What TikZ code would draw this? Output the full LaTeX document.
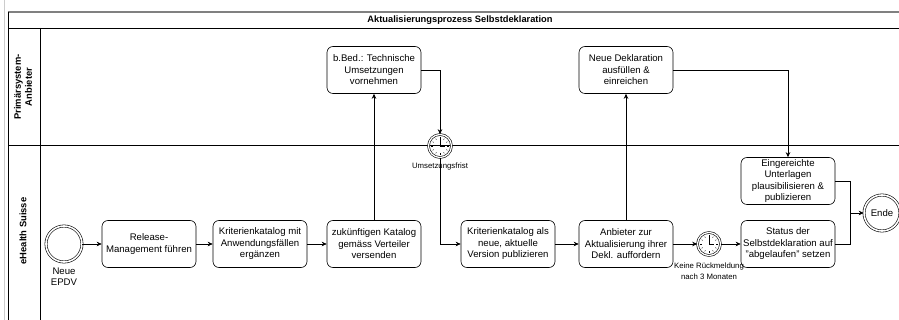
\documentclass[tikz,border=0pt]{standalone}
\usepackage{fontspec}
\setmainfont{Liberation Sans}
\usetikzlibrary{positioning,arrows.meta}

\tikzset{
  task/.style={draw, rounded corners=6pt, minimum width=94pt, minimum height=47pt,
    align=center, inner sep=1pt, font=\fontsize{9.6}{11.5}\selectfont},
  event/.style={draw, circle, double, double distance=1.6pt, minimum size=36pt, inner sep=0pt,
    font=\fontsize{9.6}{11.5}\selectfont},
  timer/.style={draw, circle, double, double distance=1.3pt, minimum size=23pt, inner sep=0pt},
  lanelabel/.style={rotate=90, align=center, font=\bfseries\fontsize{9.4}{11}\selectfont},
  note/.style={align=center, inner sep=0pt, font=\fontsize{7.8}{11}\selectfont},
}

\begin{document}
\begin{tikzpicture}[x=1pt, y=-1pt, line width=0.6pt, >={Stealth[length=5pt,width=4.5pt]}]
\useasboundingbox (0,0) rectangle (899,320);

% pool and lanes
\draw[gray!40] (4,0) -- (4,320);
\draw[gray, line width=1.2pt] (8,12) -- (899,12);
\draw (8,12) -- (8,320);
\draw (8,28) -- (899,28);
\draw (8,145) -- (899,145);
\draw (40,28) -- (40,320);
\node[font=\bfseries\fontsize{9.3}{11}\selectfont] (title) at (460,20) {Aktualisierungsprozess Selbstdeklaration};
\node[lanelabel] (lane1) at (23,87) {Primärsystem-\\Anbieter};
\node[lanelabel] (lane2) at (23,231) {eHealth Suisse};

% Primaersystem-Anbieter
\node[task] (umsetzen) at (374,70) {b.Bed.: Technische\\Umsetzungen\\vornehmen};
\node[task] (deklaration) at (626,70) {Neue Deklaration\\ausfüllen \&\\einreichen};

% eHealth Suisse
\node[event] (start) at (64,244) {};
\node[note, below=5pt of start, font=\fontsize{9.6}{11.5}\selectfont] (startlabel) {Neue\\EPDV};
\node[task] (release) at (149,244) {Release-\\Management führen};
\node[task] (ergaenzen) at (260,244) {Kriterienkatalog mit\\Anwendungsfällen\\ergänzen};
\node[task] (versenden) at (374,244) {zukünftigen Katalog\\gemäss Verteiler\\versenden};
\node[task] (publizieren) at (508,244) {Kriterienkatalog als\\neue, aktuelle\\Version publizieren};
\node[task] (auffordern) at (626,244) {Anbieter zur\\Aktualisierung ihrer\\Dekl. auffordern};
\node[task] (status) at (788,244) {Status der\\Selbstdeklaration auf\\\symbol{34}abgelaufen\symbol{34} setzen};
\node[task] (pruefen) at (788,181) {Eingereichte\\Unterlagen\\plausibilisieren \&\\publizieren};
\node[event] (ende) at (882,213) {Ende};

% timer events
\node[timer] (frist) at (440,146) {};
\node[note, below=5pt of frist] (fristlabel) {Umsetzungsfrist};
\node[timer] (monate) at (709,244) {};
\node[note, below=7pt of monate] (monatelabel) {Keine Rückmeldung\\nach 3 Monaten};
\foreach \t in {frist,monate} {
  \foreach \a in {0,30,...,330}
    \draw[line width=0.4pt] (\t.center) ++(\a:7.2) -- ++(\a:1.4);
  \draw[line width=0.5pt] (\t.center) -- ++(0,-6.5);
  \draw[line width=0.5pt] (\t.center) -- ++(4.5,0);
}

% connectors
\coordinate (merge) at (850,213);
\draw[->] (start) -- (release);
\draw[->] (release) -- (ergaenzen);
\draw[->] (ergaenzen) -- (versenden);
\draw[->] (versenden) -- (umsetzen);
\draw[->] (umsetzen.east) -| (frist.north);
\draw[->] (frist.south) |- (publizieren.west);
\draw[->] (publizieren) -- (auffordern);
\draw[->] (auffordern) -- (deklaration);
\draw[->] (deklaration.east) -| (pruefen.north);
\draw[->] (auffordern) -- (monate);
\draw[->] (monate) -- (status);
\draw (pruefen.east) -| (merge);
\draw (status.east) -| (merge);
\draw[->] (merge) -- (ende);
\end{tikzpicture}
\end{document}
